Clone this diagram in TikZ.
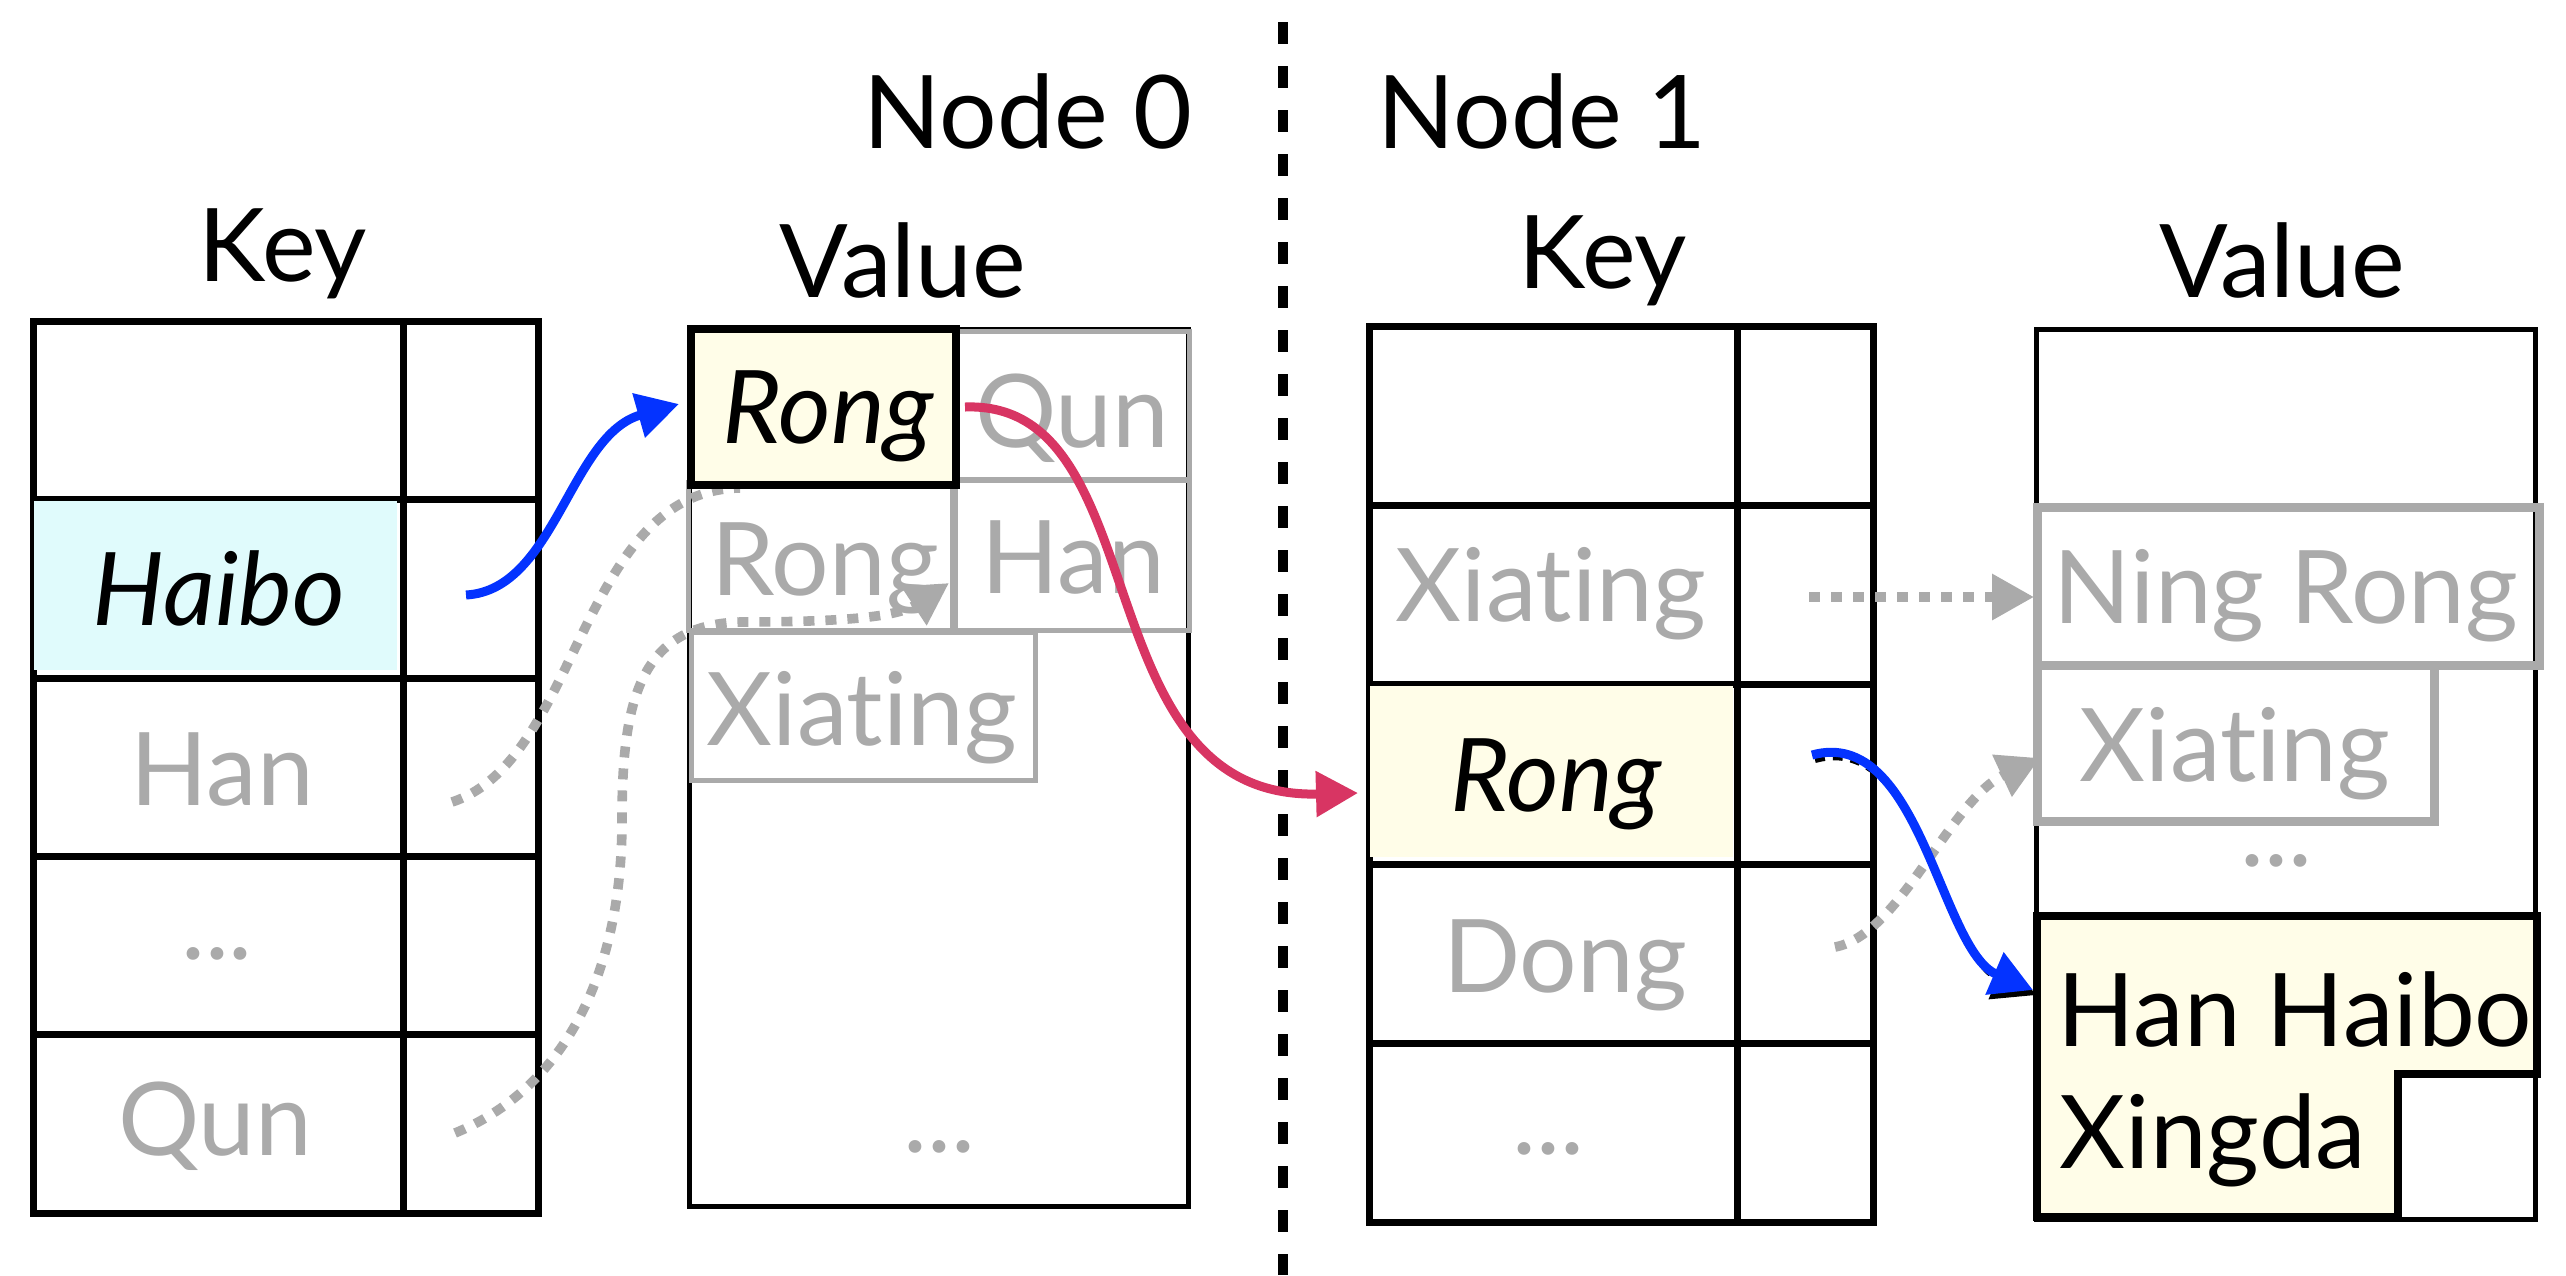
\documentclass[tikz,border=0pt]{standalone}
\usepackage{fontspec}
\setmainfont{Lato}[Ligatures={NoCommon}]
\usetikzlibrary{arrows.meta}
\definecolor{inkgray}{HTML}{AAAAAA}
\definecolor{keycyan}{HTML}{E0FBFC}
\definecolor{hityellow}{HTML}{FFFDE8}
\definecolor{hopred}{HTML}{D83563}
\definecolor{hopblue}{HTML}{0433FF}

\begin{document}
\begin{tikzpicture}[x=0.25pt,y=-0.25pt,
  every node/.style={inner sep=0pt, font=\fontsize{25.4pt}{30pt}\selectfont},
  lbl/.style={anchor=base},
  dim/.style={anchor=base, text=inkgray},
  gridline/.style={line width=1.75pt, black},
  valframe/.style={line width=1.25pt, black},
  oldbox/.style={draw=inkgray, line width=1.25pt},
  oldboxb/.style={draw=inkgray, line width=2.25pt},
  hitbox/.style={draw=black, line width=2pt, fill=hityellow, line join=miter},
  tip/.style={-{Triangle[length=10.5pt,width=11pt]}},
  ptr/.style={tip, line width=2.25pt},
  staleptr/.style={inkgray, line width=2.4pt, dash pattern=on 2.75pt off 2.75pt},
]
\fill[white] (0,0) rectangle (2566,1275);
\useasboundingbox (0,0) rectangle (2566,1275);

% ---------- headings ----------
\node[lbl] (n0title) at (1028,148) {Node 0};
\node[lbl] (n1title) at (1542,148) {Node 1};
\node[lbl] (k0title) at (283,281) {Key};
\node[lbl] (v0title) at (903,297) {Value};
\node[lbl] (k1title) at (1603,288) {Key};
\node[lbl] (v1title) at (2282,297) {Value};

% ---------- node boundary ----------
\coordinate (splitTop) at (1283,22);
\coordinate (splitBot) at (1283,1275);
\draw[line width=2.5pt, dash pattern=on 5.5pt off 5.5pt] (splitTop) -- (splitBot);

% ---------- Node 0: key table ----------
\draw[gridline] (33,321) rectangle (538,1213);
\draw[gridline] (403,321) -- (403,1213);
\foreach \y in {499,678,856,1034} \draw[gridline] (33,\y) -- (538,\y);
\fill[keycyan] (33.5,501) rectangle (397,670);
\node[lbl] (k0haibo) at (219,625) {\itshape Haibo};
\node[dim] (k0han) at (222,805) {Han};
\node[dim] (k0dots) at (217,959) {...};
\node[dim] (k0qun) at (215,1155) {Qun};

% ---------- Node 0: value area ----------
\draw[valframe] (689,329) rectangle (1188,1206);
\draw[oldbox] (957,331) rectangle (1189,479);
\draw[oldbox] (688,482) rectangle (952,630);
\draw[oldbox] (955,480) rectangle (1189,630);
\draw[oldbox] (691,632) rectangle (1035,780);
\node[dim] (v0qun) at (1072,447) {Qun};
\node[dim] (v0rong) at (825,595) {Rong};
\node[dim] (v0han) at (1073,593) {Han};
\node[dim] (v0xiating) at (862,745) {Xiating};
\node[dim] (v0dots) at (939,1152) {...};

% stale pointers of Node 0
\coordinate (k0hanPtr) at (452,802);
\coordinate (v0qunHidden) at (740,488);
\coordinate (k0qunPtr) at (455,1133);
\coordinate (v0rongTip) at (949,583);
\draw[staleptr] (k0hanPtr) .. controls +(128,-42) and +(-160,2) .. (v0qunHidden);
\draw[staleptr, tip] (k0qunPtr) .. controls +(105,-43) and +(0,160) .. (622,820)
   .. controls +(0,-120) and +(-100,3) .. (740,622)
   .. controls +(120,0) and +(-49,32) .. (v0rongTip);

% live value of Node 0
\draw[hitbox] (691,329) rectangle (956,485);
\node[lbl] (v0hit) at (828,443) {\itshape Rong};

% ---------- Node 1: key table ----------
\draw[gridline] (1369,326) rectangle (1873,1222);
\draw[gridline] (1737,326) -- (1737,1222);
\foreach \y in {505,684,864,1043} \draw[gridline] (1369,\y) -- (1873,\y);
\fill[hityellow] (1369.5,686) rectangle (1733,857);
\node[dim] (k1xiating) at (1551,621) {Xiating};
\node[lbl] (k1rong) at (1556,811) {\itshape Rong};
\node[dim] (k1dong) at (1565,992) {Dong};
\node[dim] (k1dots) at (1548,1154) {...};

% ---------- Node 1: value area ----------
\draw[valframe] (2036,329) rectangle (2535,1219);
\draw[oldboxb] (2037,507) rectangle (2539,665);
\draw[oldboxb] (2037,665) rectangle (2434,821);
\node[dim] (v1ningrong) at (2286,623) {Ning Rong};
\node[dim] (v1xiating) at (2235,781) {Xiating};
\node[dim] (v1dots) at (2276,866) {...};
\draw[hitbox, line width=2.1pt] (2037,916) -- (2537,916) -- (2537,1074) -- (2398,1074)
   -- (2398,1217) -- (2037,1217) -- cycle;
\node[lbl] (v1line1) at (2295,1046) {Han Haibo};
\node[lbl] (v1line2) at (2213,1168) {Xingda};

% stale pointers of Node 1
\coordinate (k1xiaPtr) at (1809,597);
\coordinate (v1ningTip) at (2034,597);
\coordinate (k1dongPtr) at (1835,947);
\coordinate (v1xiaTip) at (2040,758);
\draw[staleptr, tip] (k1xiaPtr) -- (v1ningTip);
\draw[staleptr, tip] (k1dongPtr) .. controls +(65,-12) and +(-90,42) .. (v1xiaTip);

% ---------- live pointers ----------
\coordinate (k0haiboPtr) at (466,595);
\coordinate (v0hitTip) at (679,404);
\draw[ptr, hopblue] (k0haiboPtr) .. controls +(89,-5) and +(-109,31) .. (v0hitTip);

\coordinate (v0hitOut) at (965,407);
\coordinate (k1rongTip) at (1358,793);
\draw[ptr, hopred] (v0hitOut) .. controls +(195,-7) and +(-278,7) .. (k1rongTip);

\coordinate (k1rongPtr) at (1812,755);
\coordinate (v1hitTip) at (2033,990);
\draw[tip, black, line width=1.5pt, dash pattern=on 2.5pt off 2pt,
      transform canvas={shift={(3,5)}}]
  (k1rongPtr) .. controls +(108,-30) and +(-93,-40) .. (v1hitTip);
\draw[ptr, hopblue] (k1rongPtr) .. controls +(108,-30) and +(-93,-40) .. (v1hitTip);
\end{tikzpicture}
\end{document}
